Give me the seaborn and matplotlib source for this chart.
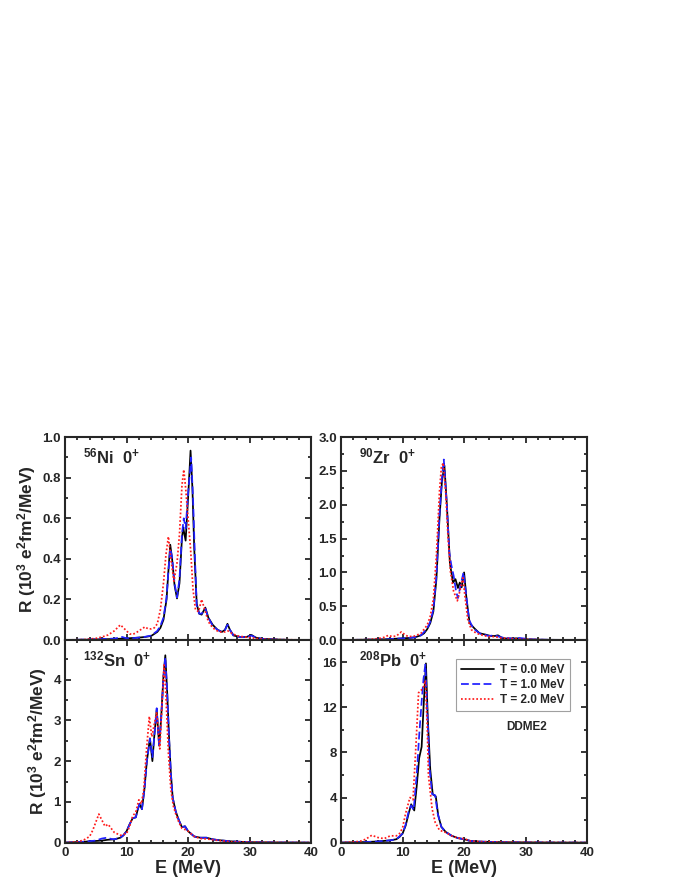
import numpy as np
import pandas as pd
import matplotlib
matplotlib.use("Agg")
import matplotlib.pyplot as plt
from matplotlib.ticker import MultipleLocator, FormatStrFormatter
import seaborn as sns

# ---------------- data ----------------
# 56Ni 0+
ni_e0 = [0, 4, 8, 10, 12, 13, 14, 15, 15.5, 16, 16.5, 16.8, 17.1, 17.4, 17.8, 18.2, 18.6, 19.0, 19.2, 19.6,
         20.0, 20.4, 20.7, 21.0, 21.4, 21.8, 22.2, 22.8, 23.3, 24.0, 24.8, 25.5, 26.0, 26.4, 26.8, 27.4,
         28.5, 29.5, 30.3, 31.0, 32, 34, 36, 40]
ni_r0 = [0, 0.002, 0.005, 0.008, 0.012, 0.015, 0.02, 0.04, 0.06, 0.10, 0.2, 0.34, 0.47, 0.40, 0.27, 0.205,
         0.28, 0.50, 0.556, 0.49, 0.70, 0.934, 0.75, 0.45, 0.18, 0.13, 0.125, 0.16, 0.11, 0.075, 0.05, 0.04,
         0.05, 0.08, 0.05, 0.022, 0.015, 0.015, 0.025, 0.012, 0.006, 0.003, 0.001, 0]
ni_e1 = [0, 4, 8, 9.3, 9.8, 10.5, 12, 13, 14, 15, 15.5, 16, 16.5, 16.8, 17.1, 17.4, 17.8, 18.2, 18.6, 19.0,
         19.3, 19.6, 20.0, 20.5, 20.8, 21.1, 21.4, 21.8, 22.2, 22.8, 23.3, 24.0, 24.8, 25.5, 26.0, 26.4,
         26.8, 27.4, 28.5, 29.5, 30.3, 31, 32, 34, 36, 40]
ni_r1 = [0, 0.003, 0.007, 0.015, 0.01, 0.008, 0.012, 0.016, 0.022, 0.045, 0.07, 0.11, 0.21, 0.34, 0.45,
         0.41, 0.28, 0.21, 0.30, 0.52, 0.60, 0.55, 0.72, 0.90, 0.70, 0.42, 0.17, 0.13, 0.13, 0.155, 0.11,
         0.07, 0.05, 0.04, 0.05, 0.075, 0.05, 0.02, 0.015, 0.015, 0.022, 0.012, 0.006, 0.003, 0.001, 0]
ni_e2 = [0, 3, 5, 6, 7, 8, 8.5, 9, 9.5, 10, 10.5, 11, 11.5, 12, 12.5, 13, 13.5, 14, 14.5, 15, 15.5, 16,
         16.4, 16.8, 17.2, 17.7, 18.2, 18.6, 19.0, 19.3, 19.6, 20.0, 20.4, 20.8, 21.2, 21.7, 22.2, 22.7,
         23.3, 24, 25, 26, 26.5, 27, 28, 30, 32, 35, 40]
ni_r2 = [0, 0.002, 0.008, 0.015, 0.025, 0.045, 0.06, 0.075, 0.06, 0.045, 0.03, 0.028, 0.035, 0.045, 0.055,
         0.065, 0.055, 0.055, 0.06, 0.08, 0.15, 0.28, 0.42, 0.51, 0.40, 0.29, 0.38, 0.52, 0.76, 0.84, 0.75,
         0.60, 0.45, 0.25, 0.15, 0.14, 0.20, 0.15, 0.09, 0.06, 0.04, 0.04, 0.045, 0.035, 0.02, 0.012, 0.005,
         0.002, 0]

# 90Zr 0+
zr_e0 = [0, 4, 7, 9, 10, 11, 12, 13, 13.5, 14, 14.5, 15, 15.5, 16, 16.4, 16.8, 17.2, 17.7, 18.2, 18.6,
         19.0, 19.3, 19.6, 20.0, 20.4, 20.9, 21.7, 22.5, 23.5, 24.3, 25.0, 25.5, 26.2, 27, 28.6, 30, 32,
         35, 40]
zr_r0 = [0, 0.005, 0.01, 0.02, 0.025, 0.03, 0.04, 0.07, 0.1, 0.16, 0.25, 0.42, 0.9, 1.8, 2.35, 2.58, 2.0,
         1.13, 0.85, 0.9, 0.77, 0.85, 0.78, 1.0, 0.6, 0.25, 0.17, 0.1, 0.08, 0.06, 0.06, 0.07, 0.03, 0.02,
         0.025, 0.01, 0.005, 0.002, 0]
zr_e1 = [0, 4, 7, 9, 10, 11, 12, 13, 14, 14.5, 15, 15.5, 16, 16.4, 16.7, 17.2, 17.6, 17.9, 18.3, 18.7,
         19.0, 19.4, 19.9, 20.3, 20.8, 21.5, 22.5, 24, 25, 26, 28, 29, 31, 34, 40]
zr_r1 = [0, 0.005, 0.01, 0.02, 0.025, 0.03, 0.04, 0.07, 0.17, 0.27, 0.45, 0.95, 1.85, 2.4, 2.67, 2.0, 1.3,
         1.12, 0.95, 0.72, 0.62, 0.8, 1.0, 0.7, 0.3, 0.17, 0.1, 0.06, 0.07, 0.04, 0.02, 0.03, 0.01, 0.003, 0]
zr_e2 = [0, 4, 6, 7, 7.7, 8.3, 9, 9.8, 10.5, 11, 12, 13, 14, 14.5, 15, 15.5, 16, 16.3, 16.6, 17.0, 17.4,
         17.8, 18.3, 18.9, 19.3, 19.8, 20.2, 20.6, 21.2, 22, 23, 24, 25, 26, 28, 30, 33, 40]
zr_r2 = [0, 0.005, 0.02, 0.04, 0.07, 0.05, 0.06, 0.12, 0.07, 0.05, 0.06, 0.1, 0.22, 0.35, 0.6, 1.25, 2.2,
         2.55, 2.62, 2.2, 1.5, 1.0, 0.72, 0.58, 0.72, 0.92, 0.6, 0.3, 0.15, 0.1, 0.07, 0.05, 0.05, 0.03,
         0.02, 0.01, 0.003, 0]

# 132Sn 0+
sn_e0 = [0, 3, 5, 6, 7, 8, 9, 9.5, 10, 10.5, 11, 11.5, 11.8, 12.1, 12.5, 12.9, 13.3, 13.8, 14.2, 14.5,
         14.9, 15.3, 15.6, 16.0, 16.3, 16.6, 16.9, 17.2, 17.5, 18.0, 18.5, 19.0, 19.5, 20.0, 21, 22, 23,
         24, 25, 27, 30, 35, 40]
sn_r0 = [0, 0.02, 0.04, 0.05, 0.07, 0.08, 0.12, 0.18, 0.28, 0.45, 0.6, 0.62, 0.8, 0.95, 0.82, 1.3, 2.0,
         2.56, 2.0, 2.6, 3.26, 2.38, 3.0, 4.1, 4.6, 3.7, 2.6, 1.7, 1.1, 0.76, 0.55, 0.38, 0.4, 0.28, 0.15,
         0.12, 0.12, 0.08, 0.06, 0.03, 0.01, 0.003, 0]
sn_e1 = [0, 3, 5, 6, 6.8, 7.5, 8, 9, 9.5, 10, 10.5, 11, 11.5, 11.8, 12.1, 12.5, 12.9, 13.3, 13.8, 14.2,
         14.5, 14.9, 15.3, 15.6, 16.0, 16.3, 16.6, 16.9, 17.2, 17.5, 18.0, 18.5, 19.0, 19.5, 20.0, 21, 22,
         23, 24, 25, 27, 30, 35, 40]
sn_r1 = [0, 0.02, 0.05, 0.1, 0.12, 0.09, 0.08, 0.12, 0.18, 0.28, 0.45, 0.6, 0.62, 0.8, 0.95, 0.82, 1.3,
         2.0, 2.55, 2.1, 2.6, 3.3, 2.35, 3.0, 4.05, 4.55, 3.7, 2.6, 1.7, 1.1, 0.76, 0.55, 0.38, 0.4, 0.28,
         0.15, 0.12, 0.12, 0.08, 0.06, 0.03, 0.01, 0.003, 0]
sn_e2 = [0, 2, 3, 4, 4.5, 5, 5.5, 6, 6.5, 7, 7.5, 8, 9, 10, 10.5, 11, 11.5, 12, 12.4, 12.8, 13.2, 13.7,
         14.1, 14.5, 14.9, 15.4, 15.8, 16.1, 16.4, 16.8, 17.2, 17.6, 18.0, 18.5, 19.0, 19.5, 20, 21, 22,
         23, 24, 25, 27, 30, 35, 40]
sn_r2 = [0, 0.02, 0.06, 0.15, 0.3, 0.5, 0.7, 0.55, 0.4, 0.45, 0.35, 0.25, 0.18, 0.22, 0.4, 0.65, 0.75,
         1.05, 0.95, 1.3, 2.2, 3.1, 2.6, 2.9, 3.2, 2.3, 3.5, 4.36, 3.6, 2.2, 1.3, 0.9, 0.7, 0.5, 0.35, 0.32,
         0.28, 0.15, 0.1, 0.09, 0.07, 0.05, 0.02, 0.01, 0.003, 0]

# 208Pb 0+
pb_e0 = [0, 4, 6, 8, 9, 9.5, 10.0, 10.5, 11.0, 11.4, 11.9, 12.3, 12.7, 13.1, 13.4, 13.8, 14.1, 14.5,
         14.9, 15.4, 15.8, 16.3, 17, 18, 19, 20, 21, 22, 23, 25, 27, 30, 35, 40]
pb_r0 = [0, 0.05, 0.1, 0.2, 0.3, 0.5, 0.8, 1.5, 2.6, 3.4, 2.85, 5.0, 7.5, 8.5, 11.9, 15.9, 11.0, 6.5,
         4.3, 4.1, 2.4, 1.4, 0.95, 0.6, 0.4, 0.3, 0.15, 0.1, 0.08, 0.05, 0.03, 0.02, 0.005, 0]
pb_e1 = [0, 4, 6, 8, 9, 10, 10.5, 11, 11.4, 11.8, 12.3, 12.7, 13.1, 13.4, 13.7, 14.0, 14.4, 14.8, 15.3,
         15.7, 16.3, 17, 18, 19, 20, 21, 22, 23, 25, 27, 30, 35, 40]
pb_r1 = [0, 0.05, 0.1, 0.2, 0.3, 0.8, 1.6, 2.8, 3.3, 2.9, 6.0, 9.5, 12.5, 14.5, 15.8, 12.0, 6.5, 4.3, 4.2,
         2.6, 1.4, 0.95, 0.6, 0.4, 0.3, 0.15, 0.1, 0.08, 0.05, 0.03, 0.02, 0.005, 0]
pb_e2 = [0, 3, 4, 5, 6, 7, 8, 9, 9.5, 10, 10.5, 11.2, 11.7, 12.2, 12.6, 13.0, 13.4, 13.7, 14.0, 14.2,
         14.8, 15.3, 16, 17, 18, 19, 20, 21, 22, 25, 30, 40]
pb_r2 = [0, 0.1, 0.3, 0.65, 0.45, 0.35, 0.6, 0.6, 0.8, 1.3, 2.6, 4.0, 3.8, 8.9, 13.3, 13.5, 13.8, 14.4,
         10.5, 6.0, 3.0, 1.8, 1.1, 0.9, 0.6, 0.4, 0.35, 0.15, 0.1, 0.05, 0.02, 0]

temps = ["T = 0.0 MeV", "T = 1.0 MeV", "T = 2.0 MeV"]
nuclei = ["56Ni", "90Zr", "132Sn", "208Pb"]
panel_labels = [r"$^{56}$Ni  0$^{+}$", r"$^{90}$Zr  0$^{+}$", r"$^{132}$Sn  0$^{+}$", r"$^{208}$Pb  0$^{+}$"]
ylims = [1.0, 3.0, 4.98, 18.0]
y_major = [0.2, 0.5, 1, 4]
y_minor = [0.1, 0.25, 0.5, 2]
y_fmt = ["%.1f", "%.1f", "%d", "%d"]

curves = {
    "56Ni": [(ni_e0, ni_r0), (ni_e1, ni_r1), (ni_e2, ni_r2)],
    "90Zr": [(zr_e0, zr_r0), (zr_e1, zr_r1), (zr_e2, zr_r2)],
    "132Sn": [(sn_e0, sn_r0), (sn_e1, sn_r1), (sn_e2, sn_r2)],
    "208Pb": [(pb_e0, pb_r0), (pb_e1, pb_r1), (pb_e2, pb_r2)],
}

# long-form table
rows = []
for nuc in nuclei:
    for t, (e, r) in zip(temps, curves[nuc]):
        for ei, ri in zip(e, r):
            rows.append((nuc, t, ei, ri))
df = pd.DataFrame(rows, columns=["nucleus", "T", "E", "R"])

# ---------------- style ----------------
sns.set_style("ticks")
plt.rcParams["font.family"] = ["Liberation Sans", "DejaVu Sans"]
plt.rcParams["font.weight"] = "bold"
plt.rcParams["mathtext.fontset"] = "custom"
plt.rcParams["mathtext.rm"] = "Liberation Sans:bold"
plt.rcParams["mathtext.bf"] = "Liberation Sans:bold"
plt.rcParams["mathtext.default"] = "bf"

colors = {temps[0]: "black", temps[1]: "#1f1fff", temps[2]: "#ff1a1a"}
dashes = {temps[0]: "", temps[1]: (4.5, 2), temps[2]: (1, 1.2)}

fig = plt.figure(figsize=(6.8, 8.8), dpi=100)
W, H = 0.362, 0.2305
positions = [(0.0956, 0.2727), (0.5015, 0.2727), (0.0956, 0.0425), (0.5015, 0.0425)]

for i, nuc in enumerate(nuclei):
    ax = fig.add_axes([positions[i][0], positions[i][1], W, H])
    sub = df[df["nucleus"] == nuc]
    sns.lineplot(data=sub, x="E", y="R", hue="T", style="T", palette=colors, dashes=dashes,
                 sort=False, estimator=None, linewidth=1.25, ax=ax, legend=(i == 3))
    ax.set_xlim(0, 40)
    ax.set_ylim(0, ylims[i])
    ax.xaxis.set_major_locator(MultipleLocator(10))
    ax.xaxis.set_minor_locator(MultipleLocator(2))
    ax.yaxis.set_major_locator(MultipleLocator(y_major[i]))
    ax.yaxis.set_minor_locator(MultipleLocator(y_minor[i]))
    ax.yaxis.set_major_formatter(FormatStrFormatter(y_fmt[i]))
    ax.tick_params(which="both", direction="in", top=True, right=True, width=1.3, labelsize=9.5)
    ax.tick_params(which="major", length=4.5, pad=3)
    ax.tick_params(which="minor", length=2.5)
    for sp in ax.spines.values():
        sp.set_linewidth(1.5)
        sp.set_visible(True)
    for lab in ax.get_xticklabels() + ax.get_yticklabels():
        lab.set_fontweight("bold")
    if i < 2:
        ax.set_xticklabels([])
        ax.set_xlabel("")
    else:
        ax.set_xlabel("E (MeV)", fontsize=13, fontweight="bold", labelpad=1)
    if i % 2 == 0:
        ax.set_ylabel(r"R (10$^{3}$ e$^{2}$fm$^{2}$/MeV)", fontsize=12.5, fontweight="bold", labelpad=3)
    else:
        ax.set_ylabel("")
    ax.text(0.075, 0.87, panel_labels[i], transform=ax.transAxes, fontsize=12, fontweight="bold",
            ha="left", va="baseline")
    if i == 3:
        leg = ax.legend(loc="upper right", bbox_to_anchor=(0.955, 0.935), fontsize=8.5, frameon=True,
                        fancybox=False, edgecolor="#888888", handlelength=2.8, borderpad=0.45,
                        labelspacing=0.25, handletextpad=0.5, title=None)
        leg.get_frame().set_linewidth(0.8)
        for txt in leg.get_texts():
            txt.set_fontweight("bold")
        ax.text(0.756, 0.57, "DDME2", transform=ax.transAxes, fontsize=8.5, fontweight="bold",
                ha="center", va="center")

fig.savefig("out.png", dpi=100)
